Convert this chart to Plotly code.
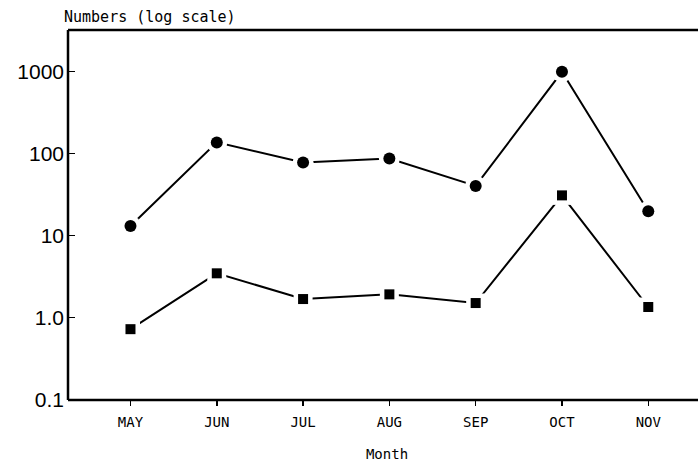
import plotly.graph_objects as go

months = ["MAY", "JUN", "JUL", "AUG", "SEP", "OCT", "NOV"]
upper_series = [13.2, 138, 78.5, 88, 40.7, 1000, 20]
lower_series = [0.73, 3.5, 1.70, 1.94, 1.52, 31.2, 1.36]
y_tick_vals = [0.1, 1, 10, 100, 1000]
y_tick_text = ["0.1", "1.0", "10", "100", "1000"]

small_font = dict(size=14, family="DejaVu Sans Mono", color="black")

x = list(range(len(months)))
fig = go.Figure()

for values, symbol, msize in ((upper_series, "circle", 12), (lower_series, "square", 10)):
    # connecting line
    fig.add_trace(go.Scatter(x=x, y=values, mode="lines",
                             line=dict(color="black", width=2), hoverinfo="skip"))
    # white halo so the line stops short of each marker
    fig.add_trace(go.Scatter(x=x, y=values, mode="markers",
                             marker=dict(symbol=symbol, size=msize + 9, color="white"),
                             hoverinfo="skip"))
    fig.add_trace(go.Scatter(x=x, y=values, mode="markers",
                             marker=dict(symbol=symbol, size=msize, color="black")))

frame = dict(color="black", width=2.5)

# the plotting area runs on past the right edge of the page, leaving the frame open there
fig.update_layout(
    template="none",
    width=706, height=462,
    margin=dict(l=68, r=0, t=30, b=62),
    paper_bgcolor="white", plot_bgcolor="white",
    showlegend=False,
    font=dict(family="DejaVu Sans", color="black"),
    xaxis=dict(
        range=[-0.724, 6.669],
        tickvals=x, ticktext=months,
        showline=False, automargin=False, mirror=False,
        ticks="outside", ticklen=5, tickwidth=1.5, tickcolor="black",
        ticklabelstandoff=4,
        tickfont=small_font,
        showgrid=False, zeroline=False,
        title=dict(text="Month", font=small_font, standoff=22),
    ),
    yaxis=dict(
        type="log", range=[-1, 3.51],
        tickvals=y_tick_vals, ticktext=y_tick_text,
        showline=False, automargin=False, mirror=False,
        ticks="inside", ticklen=7, tickwidth=1, tickcolor="black",
        ticklabelstandoff=3,
        tickfont=dict(size=21, family="Liberation Sans"),
        showgrid=False, zeroline=False,
    ),
    shapes=[
        dict(type="line", xref="paper", yref="paper", x0=0, x1=1, y0=1, y1=1, line=frame),
        dict(type="line", xref="paper", yref="paper", x0=0, x1=1, y0=0, y1=0, line=frame),
        dict(type="line", xref="paper", yref="paper", x0=0, x1=0, y0=0, y1=1, line=frame),
    ],
    annotations=[dict(text="Numbers (log scale)", xref="paper", yref="paper",
                      x=0, y=1, xanchor="left", yanchor="bottom", xshift=-6, yshift=2,
                      showarrow=False, font=dict(small_font, size=15))],
)

fig.write_html("out.html", config={"staticPlot": True, "displayModeBar": False})
